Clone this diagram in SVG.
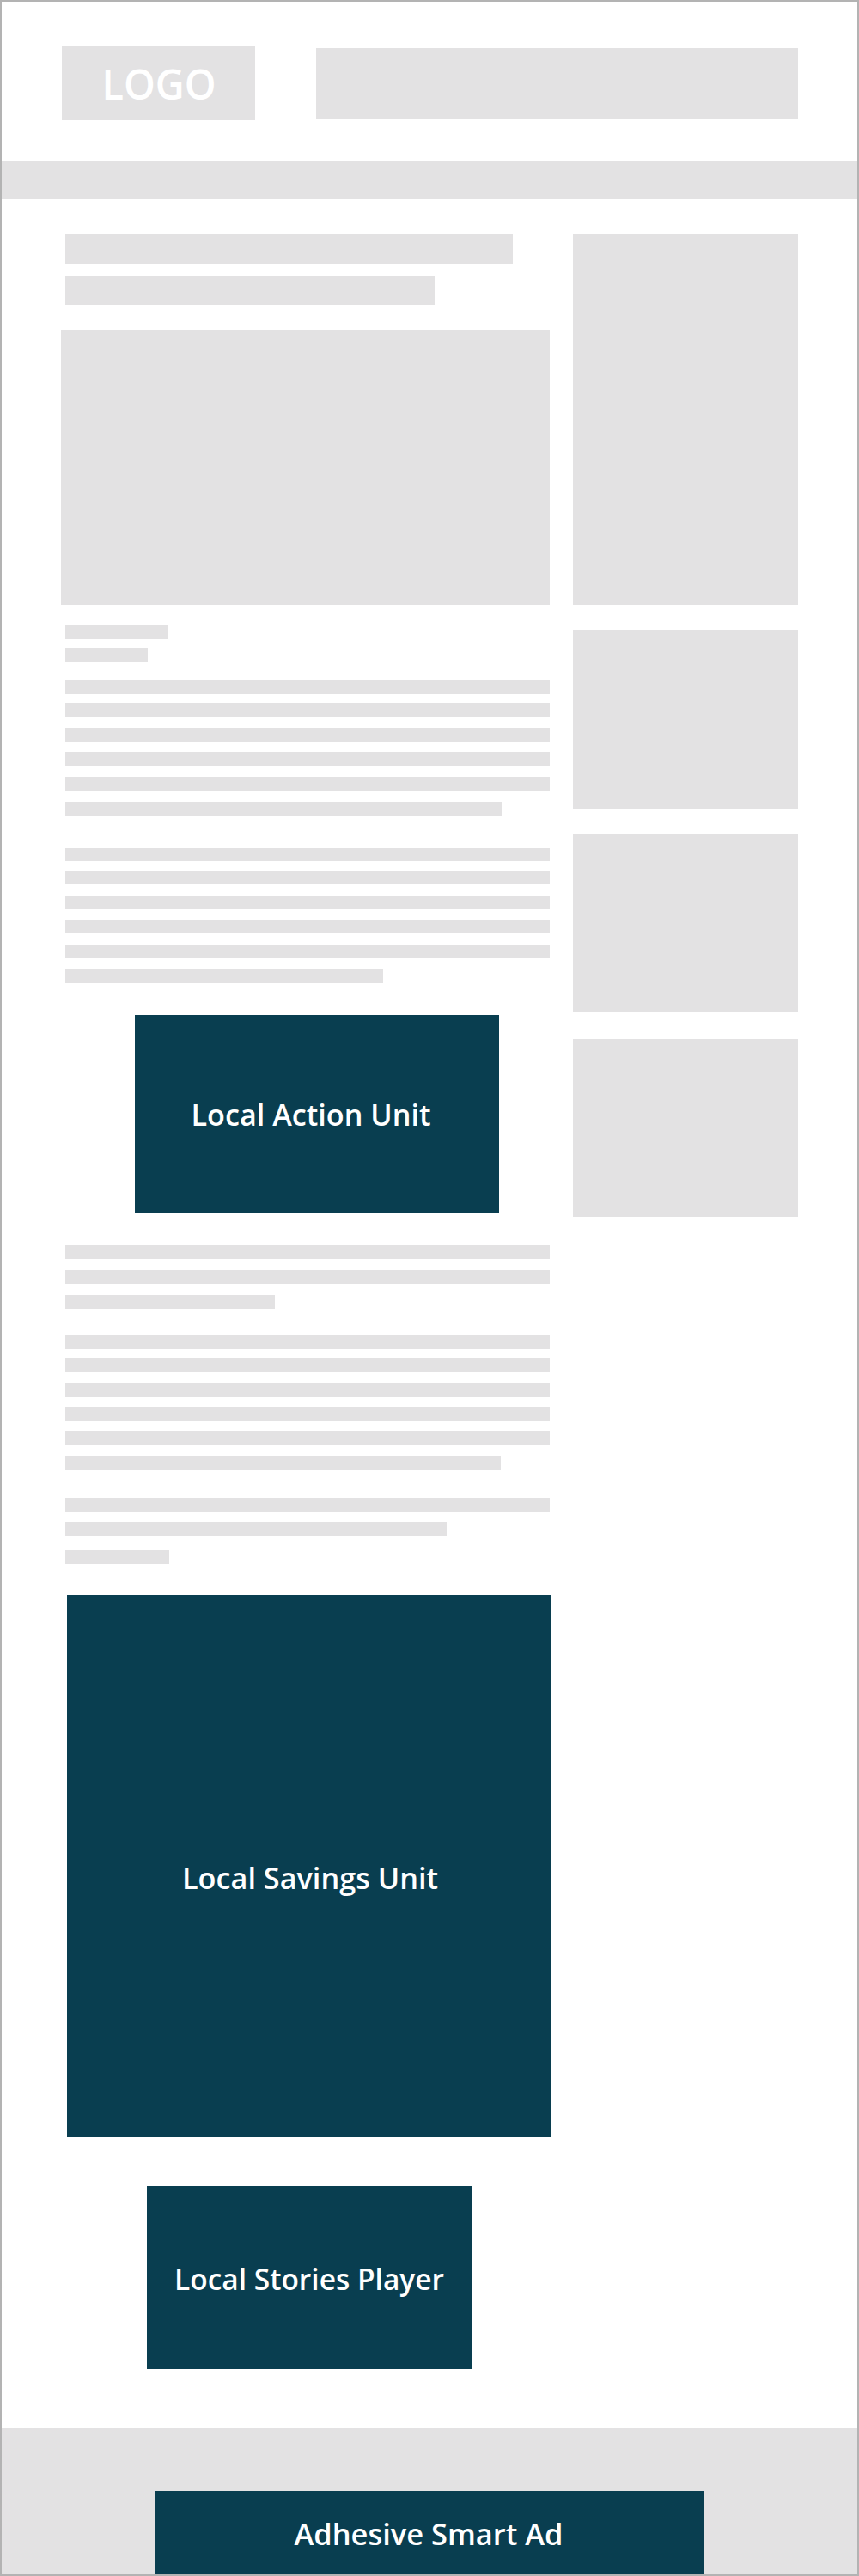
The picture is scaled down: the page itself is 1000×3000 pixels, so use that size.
<svg xmlns="http://www.w3.org/2000/svg" width="1000" height="3000" viewBox="0 0 1000 3000">
<style>
.ph{fill:#e3e2e3}
.ad{fill:#093e50}
.lbl{fill:#ffffff;font-family:"Open Sans","Liberation Sans",sans-serif;font-weight:600;font-size:35px;text-anchor:middle}
.logo{fill:#ffffff;font-family:"Open Sans","Liberation Sans",sans-serif;font-weight:600;font-size:48px;text-anchor:middle}
</style>
<rect x="0" y="0" width="1000" height="3000" fill="#ffffff"/>
<g id="header">
<g id="logo"><rect class="ph" x="72" y="54" width="225" height="86"/><text class="logo" x="185" y="116" textLength="133" lengthAdjust="spacingAndGlyphs">LOGO</text></g>
<rect id="header-banner" class="ph" x="368" y="56" width="561" height="83"/>
<rect id="nav-bar" class="ph" x="0" y="187" width="1000" height="45"/>
</g>
<g id="article">
<rect id="title-1" class="ph" x="76" y="273" width="521" height="34"/>
<rect id="title-2" class="ph" x="76" y="321" width="430" height="34"/>
<rect id="main-image" class="ph" x="71" y="384" width="569" height="321"/>
<rect class="ph" x="76" y="728" width="120" height="16"/>
<rect class="ph" x="76" y="755" width="96" height="16"/>
<g id="para-1">
<rect class="ph" x="76" y="792" width="564" height="16"/>
<rect class="ph" x="76" y="819" width="564" height="16"/>
<rect class="ph" x="76" y="848" width="564" height="16"/>
<rect class="ph" x="76" y="876" width="564" height="16"/>
<rect class="ph" x="76" y="905" width="564" height="16"/>
<rect class="ph" x="76" y="934" width="508" height="16"/>
</g>
<g id="para-2">
<rect class="ph" x="76" y="987" width="564" height="16"/>
<rect class="ph" x="76" y="1014" width="564" height="16"/>
<rect class="ph" x="76" y="1043" width="564" height="16"/>
<rect class="ph" x="76" y="1071" width="564" height="16"/>
<rect class="ph" x="76" y="1100" width="564" height="16"/>
<rect class="ph" x="76" y="1129" width="370" height="16"/>
</g>
<g id="para-3">
<rect class="ph" x="76" y="1450" width="564" height="16"/>
<rect class="ph" x="76" y="1479" width="564" height="16"/>
<rect class="ph" x="76" y="1508" width="244" height="16"/>
</g>
<g id="para-4">
<rect class="ph" x="76" y="1555" width="564" height="16"/>
<rect class="ph" x="76" y="1582" width="564" height="16"/>
<rect class="ph" x="76" y="1611" width="564" height="16"/>
<rect class="ph" x="76" y="1639" width="564" height="16"/>
<rect class="ph" x="76" y="1667" width="564" height="16"/>
<rect class="ph" x="76" y="1696" width="507" height="16"/>
</g>
<g id="para-5">
<rect class="ph" x="76" y="1745" width="564" height="16"/>
<rect class="ph" x="76" y="1773" width="444" height="16"/>
<rect class="ph" x="76" y="1805" width="121" height="16"/>
</g>
</g>
<g id="sidebar">
<rect id="side-ad-1" class="ph" x="667" y="273" width="262" height="432"/>
<rect id="side-ad-2" class="ph" x="667" y="734" width="262" height="208"/>
<rect id="side-ad-3" class="ph" x="667" y="971" width="262" height="208"/>
<rect id="side-ad-4" class="ph" x="667" y="1210" width="262" height="207"/>
</g>
<g id="local-action-unit"><rect class="ad" x="157" y="1182" width="424" height="231"/><text class="lbl" x="362" y="1311" textLength="279" lengthAdjust="spacingAndGlyphs">Local Action Unit</text></g>
<g id="local-savings-unit"><rect class="ad" x="78" y="1858" width="563" height="631"/><text class="lbl" x="361" y="2200" textLength="298" lengthAdjust="spacingAndGlyphs">Local Savings Unit</text></g>
<g id="local-stories-player"><rect class="ad" x="171" y="2546" width="378" height="213"/><text class="lbl" x="360" y="2667" textLength="314" lengthAdjust="spacingAndGlyphs">Local Stories Player</text></g>
<g id="footer">
<rect id="footer-bar" class="ph" x="0" y="2828" width="1000" height="172"/>
<g id="adhesive-smart-ad"><rect class="ad" x="181" y="2901" width="639" height="99"/><text class="lbl" x="499" y="2964" textLength="313" lengthAdjust="spacingAndGlyphs">Adhesive Smart Ad</text></g>
</g>
<g id="connectors"/>
<rect x="1" y="1" width="998" height="2998" fill="none" stroke="#b3b3b3" stroke-width="2"/>
</svg>
